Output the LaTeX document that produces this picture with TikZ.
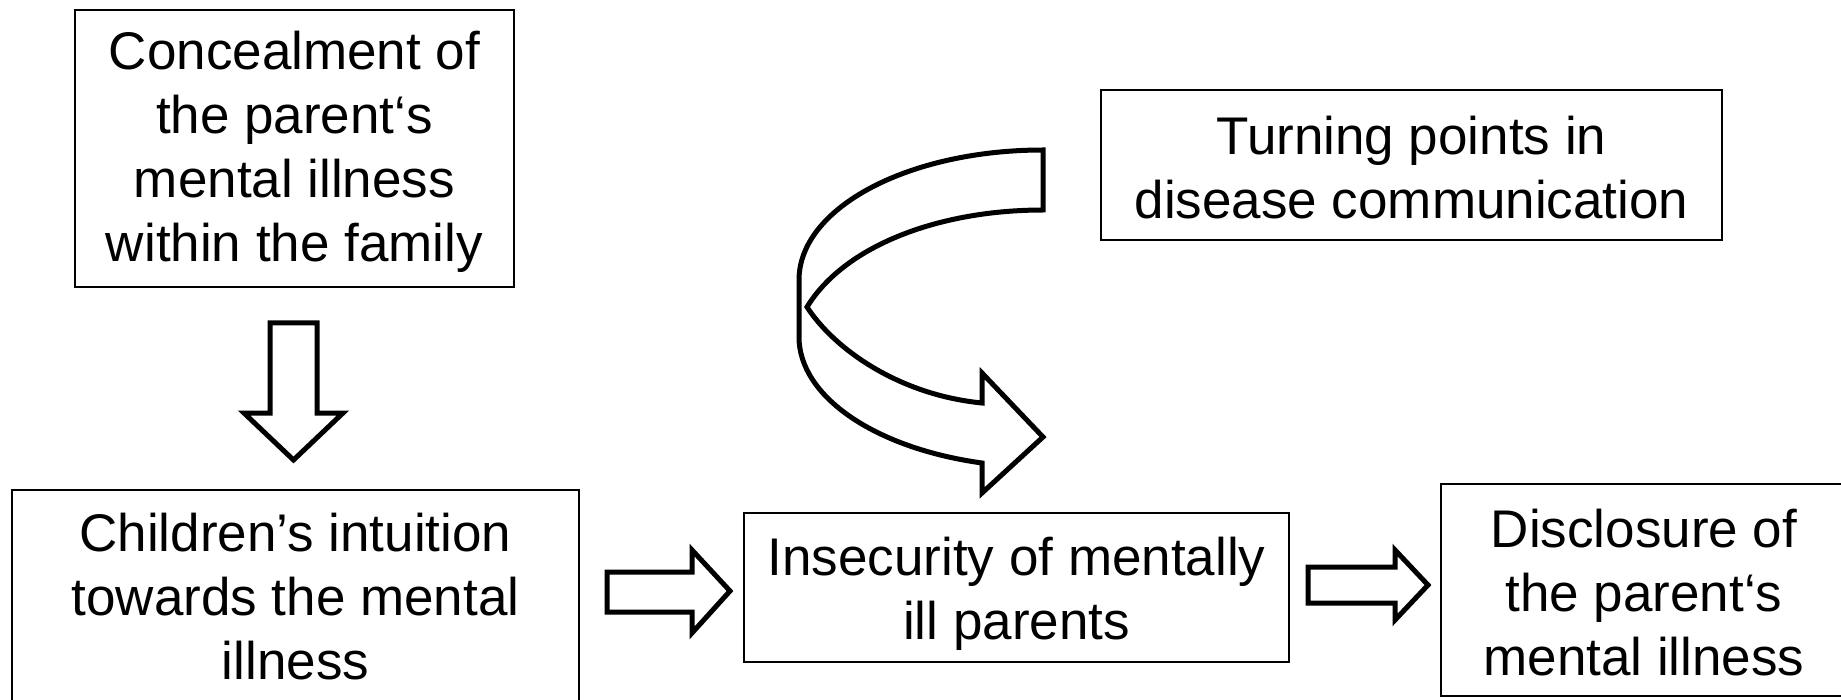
\documentclass[tikz,border=0pt]{standalone}
\usepackage{fontspec}
\setmainfont{Liberation Sans}
\begin{document}
\begin{tikzpicture}[x=1pt,y=-1pt,
  box/.style={draw=black,line width=2pt,fill=white,inner sep=0pt,align=center,
    font=\fontsize{53}{64}\selectfont},
  blockarrow/.style={draw=black,line width=5pt,fill=white,line join=miter}]
\useasboundingbox (0,0) rectangle (1841,700);

% boxes
\node[box,minimum width=439pt,minimum height=277pt] (conceal) at (294.5,148.5)
  {\rule{0pt}{46pt}Concealment of\\the parent‘s\\mental illness\\within the family};
\node[box,minimum width=567pt,minimum height=214pt] (child) at (295.5,597)
  {Children’s intuition\\towards the mental\\illness};
\node[box,minimum width=545pt,minimum height=149pt] (insec) at (1016.5,587.5)
  {\rule{0pt}{51pt}Insecurity of mentally\\ill parents};
\node[box,minimum width=406pt,minimum height=212pt] (disc) at (1644,590)
  {\rule{0pt}{43pt}Disclosure of\\the parent‘s\\mental illness};
\node[box,minimum width=621pt,minimum height=150pt] (turn) at (1411.5,165)
  {\rule{0pt}{43pt}Turning points in\\disease communication};

% down block arrow
\draw[blockarrow] (270,323) -- (317,323) -- (317,413) -- (343,413) -- (293.5,460)
  -- (244,413) -- (270,413) -- cycle;

% right block arrow 1
\draw[blockarrow] (607,572) -- (692,572) -- (692,550) -- (730,591) -- (692,633)
  -- (692,612) -- (607,612) -- cycle;

% right block arrow 2
\draw[blockarrow] (1308,567) -- (1395,567) -- (1395,550) -- (1428,585) -- (1395,620)
  -- (1395,603) -- (1308,603) -- cycle;

% curved block arrow
\draw[blockarrow] (1043,150) .. controls (908,150) and (799,208) .. (799,280)
  -- (799,337) .. controls (799,396) and (874,448) .. (982,463)
  -- (982,493) -- (1043,437) -- (982,373) -- (982,403)
  .. controls (900,395) and (835,350) .. (807,307)
  .. controls (845,245) and (940,210) .. (1043,210) -- cycle;
\end{tikzpicture}
\end{document}
